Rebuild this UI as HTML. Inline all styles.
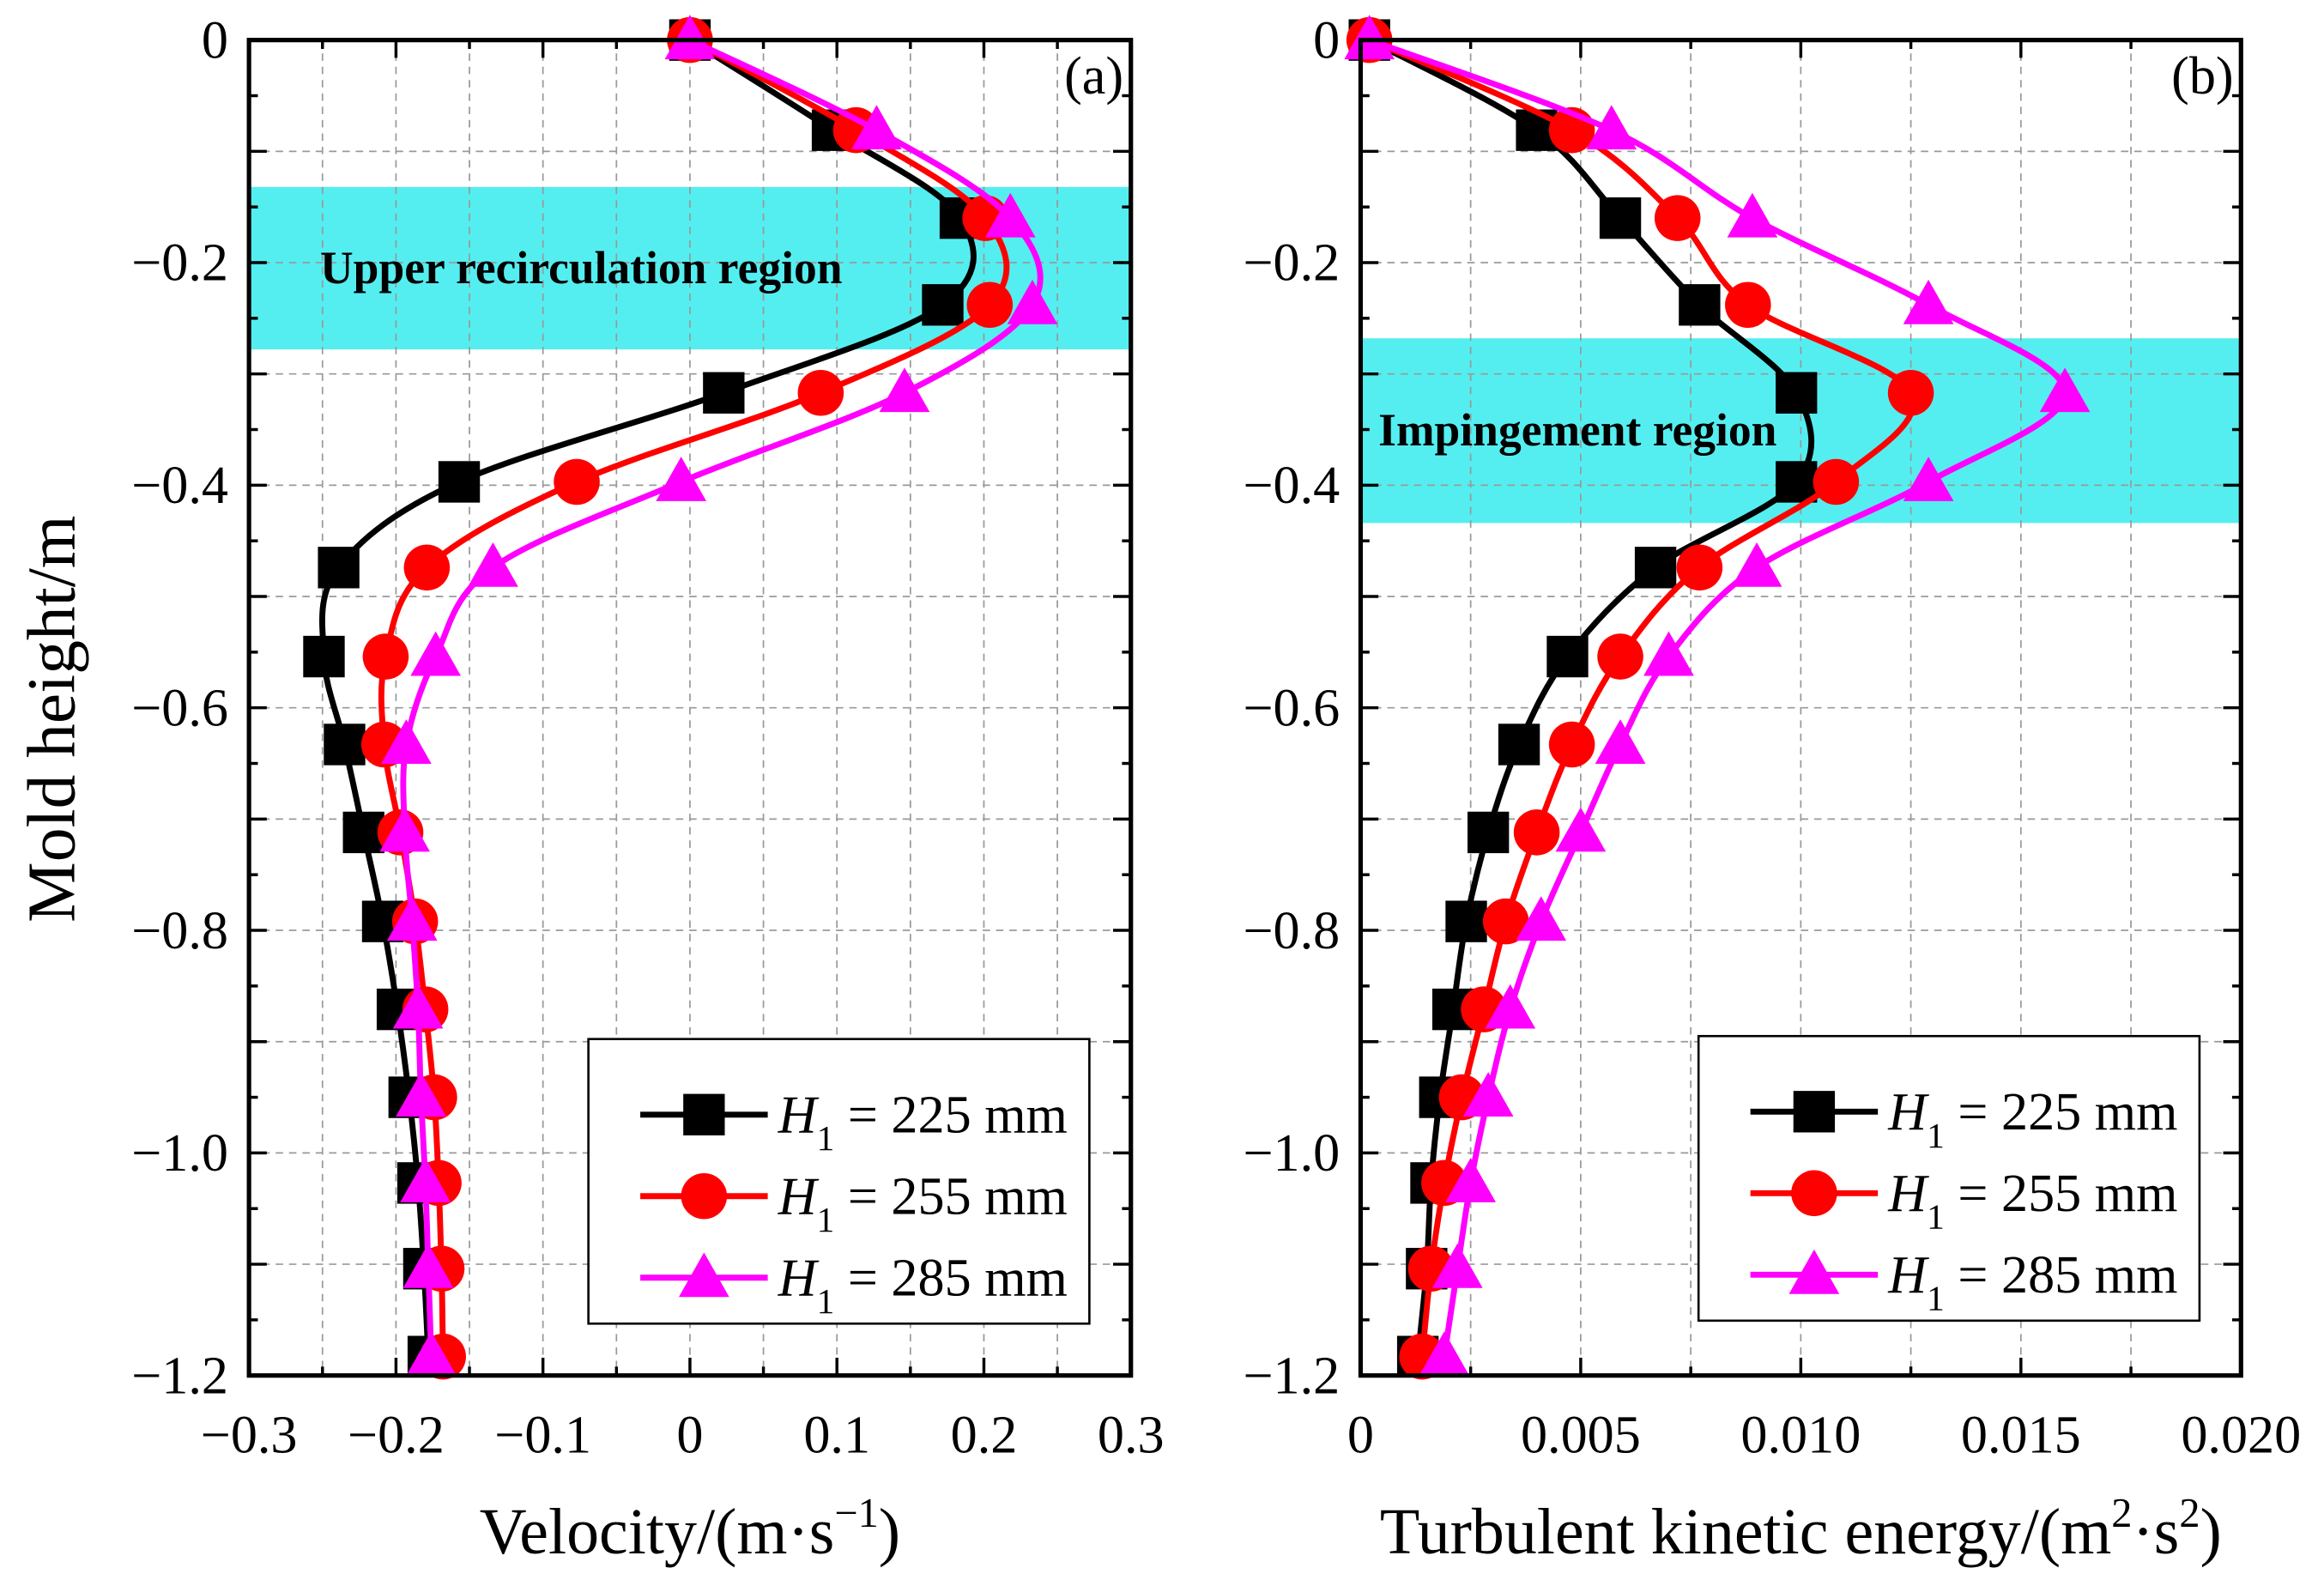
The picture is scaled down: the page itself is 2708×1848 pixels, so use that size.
<!DOCTYPE html>
<html><head><meta charset="utf-8"><style>
html,body{margin:0;padding:0;background:#fff}
svg{display:block;font-family:"Liberation Serif",serif}
</style></head><body>
<svg id="fig" width="2708" height="1848" viewBox="0 0 1568 1070" xmlns="http://www.w3.org/2000/svg"></svg>
<script>
const heights=[0,-0.081,-0.16,-0.238,-0.317,-0.397,-0.474,-0.554,-0.633,-0.712,-0.792,-0.871,-0.95,-1.027,-1.104,-1.183];
const velH225=[0,0.097,0.184,0.172,0.023,-0.157,-0.239,-0.249,-0.235,-0.222,-0.209,-0.199,-0.191,-0.185,-0.181,-0.178];
const velH255=[0,0.113,0.201,0.204,0.089,-0.077,-0.179,-0.207,-0.208,-0.197,-0.187,-0.18,-0.174,-0.171,-0.169,-0.168];
const velH285=[0,0.127,0.218,0.233,0.146,-0.006,-0.134,-0.173,-0.193,-0.194,-0.189,-0.185,-0.183,-0.18,-0.178,-0.176];
const tkeH225=[0.0002,0.004,0.0059,0.0077,0.0099,0.0099,0.0067,0.0047,0.0036,0.0029,0.0024,0.0021,0.0018,0.0016,0.0015,0.0013];
const tkeH255=[0.0002,0.0048,0.0072,0.0088,0.0125,0.0108,0.0077,0.0059,0.0048,0.004,0.0033,0.0028,0.0023,0.0019,0.0016,0.0014];
const tkeH285=[0.0002,0.0057,0.0089,0.0129,0.016,0.0129,0.009,0.007,0.0059,0.005,0.0041,0.0034,0.0029,0.0025,0.0022,0.0019];
const yTicks=[0,-0.2,-0.4,-0.6,-0.8,-1.0,-1.2];
const yTickLabels=["0","\u22120.2","\u22120.4","\u22120.6","\u22120.8","\u22121.0","\u22121.2"];
const velTicks=[-0.3,-0.2,-0.1,0,0.1,0.2,0.3];
const velTickLabels=["\u22120.3","\u22120.2","\u22120.1","0","0.1","0.2","0.3"];
const tkeTicks=[0,0.005,0.01,0.015,0.02];
const tkeTickLabels=["0","0.005","0.010","0.015","0.020"];
const seriesNames=["H225","H255","H285"];
const legendValues=["225","255","285"];

const NS="http://www.w3.org/2000/svg";
const svg=document.getElementById('fig');
function mk(tag,attrs,parent){const e=document.createElementNS(NS,tag);for(const k in attrs)e.setAttribute(k,attrs[k]);(parent||svg).appendChild(e);return e;}
const Y0=27,Y1=928;
function yS(v){return Y0+(0-v)/1.2*(Y1-Y0);}
const colors=["#000000","#ff0000","#ff00ff"];

function spline(pts){
  let d="M"+pts[0][0]+","+pts[0][1];
  for(let i=0;i<pts.length-1;i++){
    const p0=pts[Math.max(i-1,0)],p1=pts[i],p2=pts[i+1],p3=pts[Math.min(i+2,pts.length-1)];
    const c1=[p1[0]+(p2[0]-p0[0])/6,p1[1]+(p2[1]-p0[1])/6];
    const c2=[p2[0]-(p3[0]-p1[0])/6,p2[1]-(p3[1]-p1[1])/6];
    d+=" C"+c1[0]+","+c1[1]+" "+c2[0]+","+c2[1]+" "+p2[0]+","+p2[1];
  }
  return d;
}
function marker(g,k,x,y,c){
  let e;
  if(k===0){e=mk('rect',{x:x-14,y:y-14,width:28,height:28,fill:c},g);}
  else if(k===1){e=mk('circle',{cx:x,cy:y,r:15.5,fill:c},g);}
  else {e=mk('polygon',{points:(x)+","+(y-17)+" "+(x+17)+","+(y+13)+" "+(x-17)+","+(y+13),fill:c},g);}
  return e;
}

function panel(opt){
  const g=mk('g',{});
  
  
  const xS=v=>opt.x0+(v-opt.min)/(opt.max-opt.min)*(opt.x1-opt.x0);
  const band=mk('rect',{x:opt.x0,y:yS(opt.band[0]),width:opt.x1-opt.x0,height:yS(opt.band[1])-yS(opt.band[0]),fill:"#55eef0"},g);
  
  
  for(let i=1;i<opt.nMinor;i++){
    const v=opt.min+i*(opt.max-opt.min)/opt.nMinor;
    mk('line',{x1:xS(v),x2:xS(v),y1:Y0,y2:Y1,stroke:"#999",'stroke-width':1,'stroke-dasharray':"5,4"},g);
  }
  for(let i=1;i<12;i++){
    const v=-i*0.1;
    mk('line',{x1:opt.x0,x2:opt.x1,y1:yS(v),y2:yS(v),stroke:"#999",'stroke-width':1,'stroke-dasharray':"5,4"},g);
  }
  const bt=mk('text',{x:opt.x0+(opt.band[2]),y:yS((opt.band[0]+opt.band[1])/2)+10,'font-size':opt.bandFs,'font-weight':'bold',fill:"#000"},g);
  bt.textContent=opt.bandText;
  
  
  for(let i=0;i<=opt.nMinor;i++){
    const v=opt.min+i*(opt.max-opt.min)/opt.nMinor;
    const len=i%2===0?12:6;
    mk('line',{x1:xS(v),x2:xS(v),y1:Y1,y2:Y1-len,stroke:"#000",'stroke-width':2},g);
    mk('line',{x1:xS(v),x2:xS(v),y1:Y0,y2:Y0+len,stroke:"#000",'stroke-width':2},g);
  }
  for(let i=0;i<=24;i++){
    const v=-i*0.05;const len=i%2===0?12:6;
    mk('line',{x1:opt.x0,x2:opt.x0+len,y1:yS(v),y2:yS(v),stroke:"#000",'stroke-width':2},g);
    mk('line',{x1:opt.x1,x2:opt.x1-len,y1:yS(v),y2:yS(v),stroke:"#000",'stroke-width':2},g);
  }
  opt.ticks.forEach((v,i)=>{
    const t=mk('text',{x:xS(v),y:Y1+52,'font-size':36,'text-anchor':'middle'},g);
    t.textContent=opt.tickLabels[i];
    
    
  });
  yTicks.forEach((v,i)=>{
    const t=mk('text',{x:opt.x0-14,y:yS(v)+12,'font-size':36,'text-anchor':'end'},g);
    t.textContent=yTickLabels[i];
    
    
  });
  opt.series.forEach((s,k)=>{
    const sg=mk('g',{},g);
    
    
    const pts=s.map((v,i)=>[xS(v),yS(heights[i])]);
    const p=mk('path',{d:spline(pts),fill:'none',stroke:colors[k],'stroke-width':4},sg);
    
    
    pts.forEach(pt=>{
      const m=marker(sg,k,pt[0],pt[1],colors[k]);
      
      
    });
  });
  const fr=mk('rect',{x:opt.x0,y:Y0,width:opt.x1-opt.x0,height:Y1-Y0,fill:'none',stroke:'#000','stroke-width':3},g);
  
  
  const pl=mk('text',{x:opt.x1-5,y:63,'font-size':36,'text-anchor':'end'},g);
  pl.textContent=opt.label;
  
  
  const lg=mk('g',{},g);
  
  
  mk('rect',{x:opt.leg[0],y:opt.leg[1],width:338,height:192,fill:'#fff',stroke:'#000','stroke-width':1.5},lg);
  [0,1,2].forEach(k=>{
    const yy=opt.leg[1]+51+k*55, lx=opt.leg[0]+35;
    const e=mk('g',{},lg);
    
    
    mk('line',{x1:lx,x2:lx+86,y1:yy,y2:yy,stroke:colors[k],'stroke-width':4},e);
    marker(e,k,lx+43,yy,colors[k]);
    const t=mk('text',{x:lx+93,y:yy+12,'font-size':36},e);
    t.innerHTML='<tspan font-style="italic">H</tspan><tspan font-size="24" dy="12">1</tspan><tspan dy="-12"> = '+legendValues[k]+' mm</tspan>';
  });
  const xt=mk('text',{x:(opt.x0+opt.x1)/2,y:1048,'font-size':44,'text-anchor':'middle'},g);
  xt.innerHTML=opt.xTitle;
  
  
}

panel({name:'velocity-panel',x0:168,x1:763,min:-0.3,max:0.3,nMinor:12,ticks:velTicks,tickLabels:velTickLabels,
  series:[velH225,velH255,velH285],band:[-0.132,-0.278,48],bandFs:31,bandText:'Upper recirculation region',label:'(a)',leg:[397,701],
  xTitle:'Velocity/(m\u00b7s<tspan font-size="28" dy="-18">\u22121</tspan><tspan dy="18">)</tspan>'});
panel({name:'tke-panel',x0:918,x1:1512,min:0,max:0.02,nMinor:8,ticks:tkeTicks,tickLabels:tkeTickLabels,
  series:[tkeH225,tkeH255,tkeH285],band:[-0.268,-0.434,12],bandFs:31,bandText:'Impingement region',label:'(b)',leg:[1146,699],
  xTitle:'Turbulent kinetic energy/(m<tspan font-size="28" dy="-18">2</tspan><tspan dy="18">\u00b7s</tspan><tspan font-size="28" dy="-18">2</tspan><tspan dy="18">)</tspan>'});
const yt=mk('text',{x:0,y:0,'font-size':46,'text-anchor':'middle',transform:'translate(50,485) rotate(-90)'});
yt.textContent='Mold height/m';


</script>
</body></html>
